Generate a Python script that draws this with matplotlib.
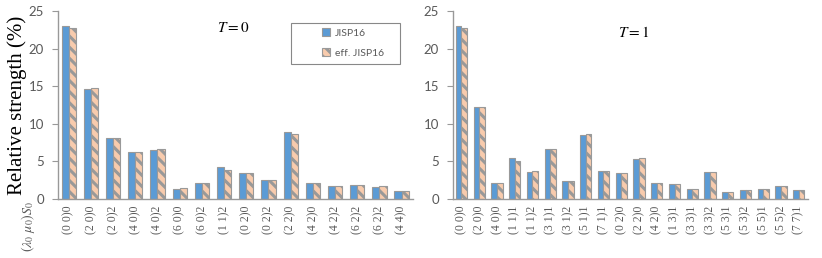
import numpy as np
import matplotlib.pyplot as plt
from matplotlib.patches import Rectangle, Shadow

# T = 0 panel
cats_t0 = ['(0 0)0', '(2 0)0', '(2 0)2', '(4 0)0', '(4 0)2', '(6 0)0', '(6 0)2', '(1 1)2',
           '(0 2)0', '(0 2)2', '(2 2)0', '(4 2)0', '(4 2)2', '(6 2)2', '(6 2)2', '(4 4)0']
jisp_t0 = [23.0, 14.6, 8.15, 6.2, 6.45, 1.35, 2.07, 4.23, 3.47, 2.57, 8.85, 2.07, 1.67, 1.9, 1.55, 1.08]
eff_t0 = [22.7, 14.8, 8.15, 6.3, 6.6, 1.44, 2.07, 3.87, 3.47, 2.57, 8.65, 2.07, 1.67, 1.9, 1.67, 1.08]

# T = 1 panel
cats_t1 = ['(0 0)0', '(2 0)0', '(4 0)0', '(1 1)1', '(1 1)2', '(3 1)1', '(3 1)2', '(5 1)1',
           '(7 1)1', '(0 2)0', '(2 2)0', '(4 2)0', '(1 3)1', '(3 3)1', '(3 3)2', '(5 3)1',
           '(5 3)2', '(5 5)1', '(5 5)2', '(7 7)1']
jisp_t1 = [23.0, 12.2, 2.07, 5.4, 3.6, 6.67, 2.34, 8.5, 3.74, 3.5, 5.27, 2.07, 1.94, 1.3, 3.6, 0.9,
           1.17, 1.3, 1.7, 1.17]
eff_t1 = [22.8, 12.3, 2.07, 5.1, 3.74, 6.67, 2.34, 8.65, 3.74, 3.5, 5.4, 2.07, 1.94, 1.3, 3.6, 0.9,
          1.17, 1.3, 1.67, 1.17]

blue = '#5b9bd5'
orange = '#ed7d31'
light = '#f8cbad'
edge = '#999999'
grey = '#595959'

plt.rcParams['hatch.color'] = orange
plt.rcParams['hatch.linewidth'] = 2.2
plt.rcParams['mathtext.fontset'] = 'stix'

fig = plt.figure(figsize=(8.22, 2.58), dpi=100)
ax1 = fig.add_axes([0.0706, 0.229, 0.432, 0.728])
ax2 = fig.add_axes([0.551, 0.229, 0.432, 0.728])

w = 0.32
panels = [(ax1, cats_t0, jisp_t0, eff_t0, '$T = 0$', 0.493, 0.91),
          (ax2, cats_t1, jisp_t1, eff_t1, '$T = 1$', 0.51, 0.888)]
for ax, cats, a, b, title, tx, ty in panels:
    x = np.arange(len(cats))
    ax.bar(x - w / 2, a, w, color=blue, edgecolor=edge, linewidth=0.8, label='JISP16')
    ax.bar(x + w / 2, b, w, color=light, edgecolor=edge, linewidth=0.8, hatch='\\\\\\',
           label='eff. JISP16')
    ax.set_xlim(-0.48, len(cats) - 0.48)
    ax.set_ylim(0, 25)
    ax.set_yticks([0, 5, 10, 15, 20, 25])
    ax.set_xticks(x)
    ax.set_xticklabels(cats, rotation=90, family='Liberation Serif', fontsize=8.5, color=grey)
    ax.tick_params(axis='x', length=0, pad=5)
    ax.tick_params(axis='y', length=4, color=edge, labelcolor=grey, labelsize=9.5, pad=6)
    for lab in ax.get_yticklabels():
        lab.set_family('Lato')
    for s in ['top', 'right']:
        ax.spines[s].set_visible(False)
    for s in ['left', 'bottom']:
        ax.spines[s].set_color(edge)
        ax.spines[s].set_linewidth(1.0)
    ax.text(tx, ty, title, transform=ax.transAxes, ha='center', va='center', fontsize=11)

ax1.set_ylabel('Relative strength (%)', family='Liberation Serif', fontsize=15)
ax1.yaxis.set_label_coords(-0.087, 0.5)

# legend box with shadow
box = Rectangle((0.656, 0.718), 0.307, 0.218, transform=ax1.transAxes, facecolor='white',
                edgecolor='#888888', linewidth=0.8, zorder=5, clip_on=False)
shadow = Shadow(box, 4, -3, facecolor='#bbbbbb', edgecolor='none', zorder=4, clip_on=False)
ax1.add_patch(shadow)
ax1.add_patch(box)
leg = ax1.legend(loc='center left', bbox_to_anchor=(0.718, 0.83), frameon=False, fontsize=7.5,
                 handlelength=0.75, handleheight=0.75, handletextpad=0.45, labelspacing=1.05)
leg.set_zorder(6)
for t in leg.get_texts():
    t.set_color(grey)
    t.set_family('Lato')

fig.text(0.034, 0.12, r'$(\lambda_0\ \mu_0)S_0$', rotation=90, ha='center', va='center',
         fontsize=10, color=grey)

fig.savefig('out.png', dpi=100)
